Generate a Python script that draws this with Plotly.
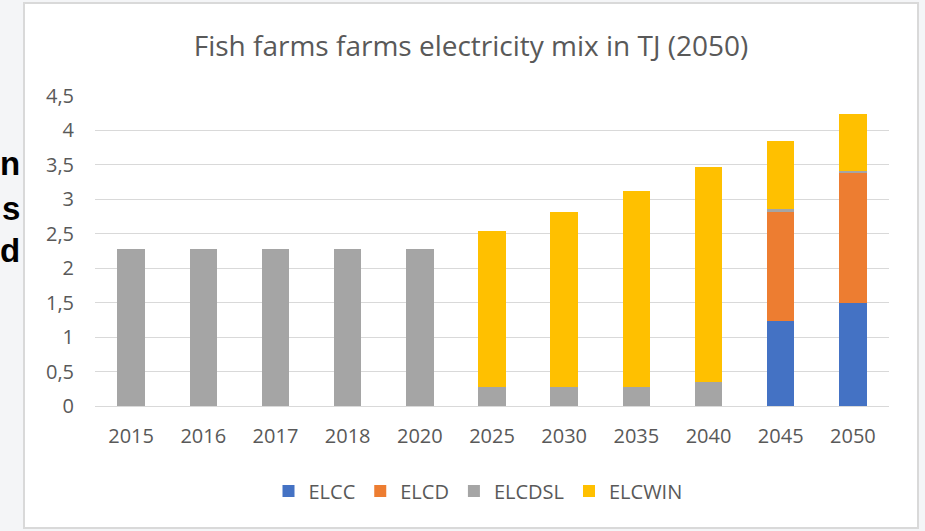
import plotly.graph_objects as go

categories = ["2015", "2016", "2017", "2018", "2020", "2025", "2030", "2035", "2040", "2045", "2050"]
elcc = [0, 0, 0, 0, 0, 0, 0, 0, 0, 1.24, 1.50]
elcd = [0, 0, 0, 0, 0, 0, 0, 0, 0, 1.58, 1.88]
elcdsl = [2.28, 2.28, 2.28, 2.28, 2.28, 0.28, 0.28, 0.28, 0.35, 0.035, 0.03]
elcwin = [0, 0, 0, 0, 0, 2.26, 2.54, 2.84, 3.12, 0.985, 0.83]
y_ticks = [0, 0.5, 1, 1.5, 2, 2.5, 3, 3.5, 4, 4.5]
y_tick_text = ["0", "0,5", "1", "1,5", "2", "2,5", "3", "3,5", "4", "4,5"]

series = [("ELCC", elcc, "#4472C4"), ("ELCD", elcd, "#ED7D31"),
          ("ELCDSL", elcdsl, "#A5A5A5"), ("ELCWIN", elcwin, "#FFC000")]

FONT = "Open Sans"
GREY_TXT = "#595959"

fig = go.Figure()
for name, vals, col in series:
    fig.add_trace(go.Bar(x=categories, y=vals, name=name, marker_color=col,
                         marker_line_width=0))

L, R, T, B = 95, 36, 96, 125
W, H = 925, 531
pw, ph = W - L - R, H - T - B

def px(x):
    return (x - L) / pw

def py(y):
    return (H - B - y) / ph

fig.add_shape(type="rect", xref="paper", yref="paper",
              x0=px(24), x1=px(918), y0=py(528), y1=py(3),
              fillcolor="white", line=dict(color="#D9D9D9", width=2), layer="below")

for txt, xr, yc in [("n", 21, 163), ("s", 21, 208), ("d", 21, 250)]:
    fig.add_annotation(xref="paper", yref="paper", x=px(xr), y=py(yc),
                       xanchor="right", yanchor="middle", showarrow=False,
                       text="<b>" + txt + "</b>",
                       font=dict(family="Liberation Sans", size=33, color="black"),
                       borderpad=0)

fig.update_layout(
    width=W, height=H,
    margin=dict(l=L, r=R, t=T, b=B),
    barmode="stack", bargap=0.62,
    paper_bgcolor="#F4F5F7", plot_bgcolor="white",
    title=dict(text="Fish farms farms electricity mix in TJ (2050)",
               x=471 / W, xanchor="center", y=1 - 46 / H, yanchor="middle",
               font=dict(family=FONT, size=28, color=GREY_TXT)),
    font=dict(family=FONT, size=20, color=GREY_TXT),
    legend=dict(orientation="h", x=px(478), xanchor="center", y=py(491), yanchor="middle",
                traceorder="normal",
                font=dict(family=FONT, size=20, color=GREY_TXT), itemwidth=30,
                bgcolor="rgba(0,0,0,0)"),
    xaxis=dict(type="category", showgrid=False, showline=False, ticks="",
               ticklabelstandoff=16, tickfont=dict(size=20, color=GREY_TXT)),
    yaxis=dict(range=[0, 4.5], tickvals=y_ticks, ticktext=y_tick_text,
               showgrid=True, gridcolor="#D9D9D9", gridwidth=1, zeroline=True,
               zerolinecolor="#D9D9D9", zerolinewidth=1, showline=False, ticks="",
               ticklabelstandoff=20, tickfont=dict(size=20, color=GREY_TXT)),
)

fig.write_html("out.html")
